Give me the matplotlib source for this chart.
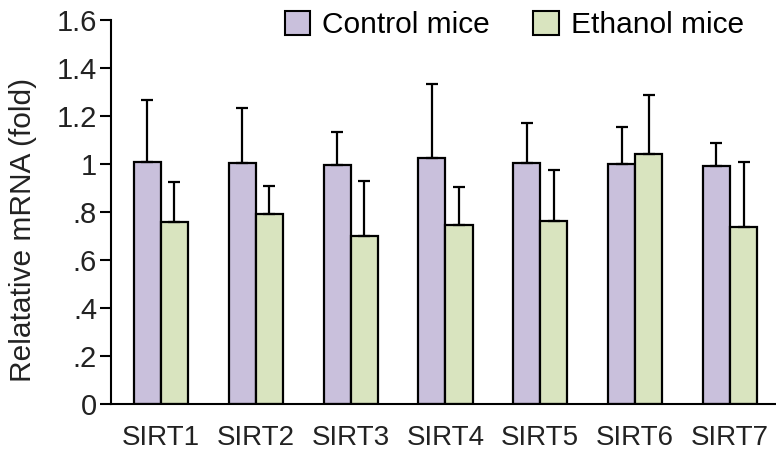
import matplotlib.pyplot as plt
import numpy as np
from matplotlib.patches import Patch

plt.rcParams['font.family'] = ['Liberation Sans', 'DejaVu Sans']

genes = ['SIRT1', 'SIRT2', 'SIRT3', 'SIRT4', 'SIRT5', 'SIRT6', 'SIRT7']
control = [1.01, 1.005, 0.997, 1.025, 1.003, 1.0, 0.993]
control_err = [0.257, 0.228, 0.136, 0.308, 0.167, 0.155, 0.093]
ethanol = [0.757, 0.79, 0.70, 0.746, 0.761, 1.043, 0.739]
ethanol_err = [0.168, 0.118, 0.229, 0.158, 0.214, 0.244, 0.269]
yticks = [0, 0.2, 0.4, 0.6, 0.8, 1.0, 1.2, 1.4, 1.6]
yticklabels = ['0', '.2', '.4', '.6', '.8', '1', '1.2', '1.4', '1.6']

c_control = '#c9c0dc'
c_ethanol = '#d9e4bf'

fig = plt.figure(figsize=(7.76, 4.53), dpi=100)
ax = fig.add_axes([0.143, 0.108, 0.857, 0.848])

x = np.arange(len(genes))
w = 0.285
err_kw = dict(elinewidth=1.6, capthick=1.6, capsize=4, ecolor='black')
ax.bar(x - w / 2, control, w, color=c_control, edgecolor='black', linewidth=1.6,
       yerr=[np.zeros(len(genes)), control_err], error_kw=err_kw, zorder=2)
ax.bar(x + w / 2, ethanol, w, color=c_ethanol, edgecolor='black', linewidth=1.6,
       yerr=[np.zeros(len(genes)), ethanol_err], error_kw=err_kw, zorder=2)

ax.set_xlim(-0.527, 6.485)
ax.set_ylim(0, 1.6)
ax.set_yticks(yticks)
ax.set_yticklabels(yticklabels, fontsize=21, color='#222222')
ax.set_xticks(x)
ax.set_xticklabels(genes, fontsize=20, color='#222222')
ax.tick_params(axis='x', length=0, pad=15)
ax.tick_params(axis='y', length=8, width=1.5, pad=2)
ax.spines['top'].set_visible(False)
ax.spines['right'].set_visible(False)
ax.spines['left'].set_linewidth(1.5)
ax.spines['bottom'].set_linewidth(1.5)
ax.set_ylabel('Relatative mRNA (fold)', fontsize=21.5, color='#222222')
ax.yaxis.set_label_coords(-0.111, 0.453)

handles = [Patch(facecolor=c_control, edgecolor='black', linewidth=1.5, label='Control mice'),
           Patch(facecolor=c_ethanol, edgecolor='black', linewidth=1.5, label='Ethanol mice')]
fig.legend(handles=handles, loc='center', bbox_to_anchor=(0.663, 0.945), ncol=2,
           frameon=False, fontsize=21.5, handlelength=0.85, handleheight=0.85,
           handletextpad=0.4, columnspacing=1.45, borderpad=0.1)

fig.savefig('out.png', dpi=100)
